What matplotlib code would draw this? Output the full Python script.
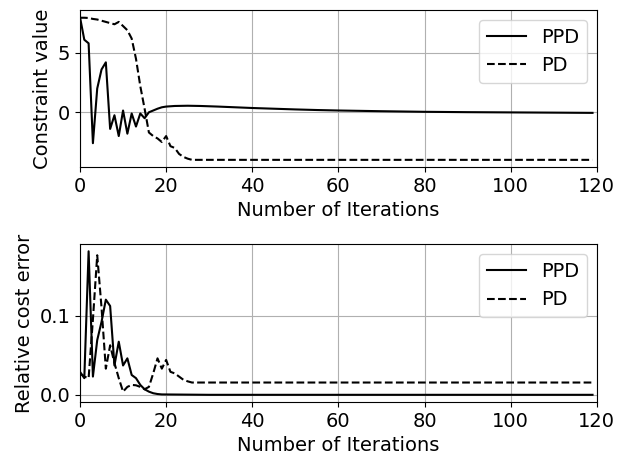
import matplotlib
matplotlib.use("Agg")
import matplotlib.pyplot as plt

# ------------------------------------------------------------
# Data
# ------------------------------------------------------------

# Constraint value - PPD
ppd_con_x = list(range(20)) + [20, 22, 25, 28, 32, 36, 40, 45, 50, 55, 60, 70, 80, 90, 100, 110, 119]
ppd_con_y = [8.0, 6.1, 5.8, -2.6, 2.0, 3.6, 4.2, -1.4, -0.25, -2.0,
             0.15, -1.8, -0.1, -1.2, -0.1, -0.5, 0.0, 0.15, 0.3, 0.42,
             0.48, 0.53, 0.55, 0.53, 0.48, 0.42, 0.36, 0.3, 0.24, 0.19,
             0.15, 0.09, 0.04, 0.01, -0.01, -0.03, -0.05]

# Constraint value - PD
pd_con_x = list(range(27)) + [119]
pd_con_y = [7.95, 7.95, 7.93, 7.85, 7.8, 7.7, 7.6, 7.5, 7.4, 7.6,
            7.25, 6.9, 6.2, 4.5, 2.2, 0.3, -1.7, -2.0, -2.2, -2.5,
            -2.0, -2.85, -3.0, -3.5, -3.75, -3.9, -4.0, -4.0]

# Relative cost error - PPD
ppd_err_x = list(range(20)) + [30, 119]
ppd_err_y = [0.029, 0.021, 0.181, 0.023, 0.069, 0.092, 0.12, 0.112, 0.037, 0.067,
             0.037, 0.046, 0.025, 0.021, 0.0125, 0.007, 0.004, 0.002, 0.001, 0.0005,
             0.0, 0.0]

# Relative cost error - PD
pd_err_x = list(range(27)) + [119]
pd_err_y = [0.027, 0.023, 0.021, 0.095, 0.176, 0.11, 0.033, 0.0625, 0.04, 0.021,
            0.004, 0.010, 0.0125, 0.012, 0.010, 0.007, 0.010, 0.027, 0.046, 0.033,
            0.044, 0.029, 0.027, 0.023, 0.019, 0.017, 0.0155, 0.0155]

plt.rcParams["font.size"] = 14

fig = plt.figure(figsize=(6.23, 4.55), dpi=100)

# ------------------------------------------------------------
# Top: constraint value
# ------------------------------------------------------------
ax1 = fig.add_axes([0.1284, 0.633, 0.8296, 0.345])
ax1.plot(ppd_con_x, ppd_con_y, color="black", linestyle="-", label="PPD")
ax1.plot(pd_con_x, pd_con_y, color="black", linestyle="--", label="PD")
ax1.set_xlim(0, 120)
ax1.set_yticks([0, 5])
ax1.set_xlabel("Number of Iterations")
ax1.set_ylabel("Constraint value")
ax1.grid(True)
ax1.legend(loc="upper right")

# ------------------------------------------------------------
# Bottom: relative cost error
# ------------------------------------------------------------
ax2 = fig.add_axes([0.1284, 0.1165, 0.8296, 0.347])
ax2.plot(ppd_err_x, ppd_err_y, color="black", linestyle="-", label="PPD")
ax2.plot(pd_err_x, pd_err_y, color="black", linestyle="--", label="PD")
ax2.set_xlim(0, 120)
ax2.set_yticks([0.0, 0.1])
ax2.set_xlabel("Number of Iterations")
ax2.set_ylabel("Relative cost error")
ax2.grid(True)
ax2.legend(loc="upper right")

fig.savefig("out.png", dpi=100)
